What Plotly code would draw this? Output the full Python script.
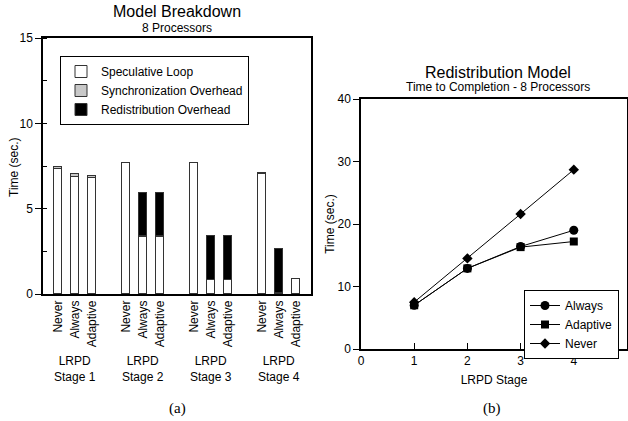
import plotly.graph_objects as go

# ---- data: panel (a) Model Breakdown ----
stages = ["Stage 1", "Stage 2", "Stage 3", "Stage 4"]
policies = ["Never", "Always", "Adaptive"]
spec_loop = [7.30, 6.85, 6.78, 7.65, 3.36, 3.36, 7.65, 0.82, 0.82, 7.03, 0.05, 0.86]
sync_over = [0.16, 0.16, 0.15, 0.04, 0.02, 0.02, 0.04, 0.02, 0.02, 0.04, 0.00, 0.02]
redis_over = [0.00, 0.00, 0.00, 0.00, 2.56, 2.56, 0.00, 2.54, 2.54, 0.00, 2.57, 0.00]

# ---- data: panel (b) Redistribution Model ----
lrpd_stage = [1, 2, 3, 4]
always_t = [7.0, 12.9, 16.4, 19.0]
adaptive_t = [7.0, 12.9, 16.3, 17.2]
never_t = [7.5, 14.5, 21.6, 28.7]

W, H = 628, 421
FONT = "Liberation Sans, Arial, Helvetica, sans-serif"

pos = []
labels = []
for g, _ in enumerate(stages):
    for j, p in enumerate(policies):
        pos.append(g * 4 + j)
        labels.append(p)
group_centers = [g * 4 + 1 for g in range(len(stages))]

fig = go.Figure()
bar_line = dict(color="#333333", width=1)
for name, vals, col in [
    ("Speculative Loop", spec_loop, "white"),
    ("Synchronization Overhead", sync_over, "#c8c8c8"),
    ("Redistribution Overhead", redis_over, "black"),
]:
    fig.add_trace(go.Bar(x=pos, y=vals, name=name, width=0.45,
                         marker=dict(color=col, line=bar_line),
                         xaxis="x", yaxis="y", legend="legend"))

for name, vals, sym, sz in [
    ("Always", always_t, "circle", 9),
    ("Adaptive", adaptive_t, "square", 8),
    ("Never", never_t, "diamond", 8),
]:
    fig.add_trace(go.Scatter(x=lrpd_stage, y=vals, name=name, mode="lines+markers",
                             line=dict(color="black", width=1),
                             marker=dict(symbol=sym, size=sz, color="black"),
                             xaxis="x2", yaxis="y2", legend="legend2"))

def px(x):
    return x / W

def py(y):
    return 1 - y / H

ax_common = dict(showline=True, linecolor="black", linewidth=1.5, mirror=True,
                 showgrid=False, zeroline=False,
                 tickfont=dict(family=FONT, size=12, color="black"))

fig.update_layout(
    width=W, height=H, margin=dict(l=0, r=0, t=0, b=0, autoexpand=False),
    paper_bgcolor="white", plot_bgcolor="white",
    barmode="stack", bargap=0,
    font=dict(family=FONT, size=12, color="black"),
    xaxis=dict(domain=[px(43), px(311)], range=[-0.9, 14.9],
               tickvals=pos, ticktext=labels, tickangle=-90, ticks="",
               anchor="y", **ax_common),
    yaxis=dict(domain=[py(294), py(38)], range=[0, 15], dtick=5,
               ticks="outside", ticklen=6, tickcolor="black",
               minor=dict(dtick=2.5, ticks="inside", ticklen=4, tickcolor="black"),
               anchor="x", **ax_common),
    xaxis2=dict(domain=[px(361), px(627)], range=[0, 5], dtick=1,
                ticks="inside", ticklen=6, tickcolor="black",
                title=dict(text="LRPD Stage", font=dict(family=FONT, size=12), standoff=8),
                anchor="y2", **ax_common),
    yaxis2=dict(domain=[py(349), py(99)], range=[0, 40], dtick=10,
                ticks="outside", ticklen=6, tickcolor="black",
                title=dict(text="Time (sec.)", font=dict(family=FONT, size=12), standoff=0),
                anchor="x2", **ax_common),
    legend=dict(x=px(60), y=py(56), xanchor="left", yanchor="top",
                bordercolor="black", borderwidth=1, bgcolor="white",
                font=dict(family=FONT, size=12), traceorder="normal",
                itemwidth=30, tracegroupgap=0),
    legend2=dict(x=px(619), y=py(290), xanchor="right", yanchor="top",
                 bordercolor="black", borderwidth=1, bgcolor="white",
                 font=dict(family=FONT, size=12), itemwidth=30),
    showlegend=True,
)

ann = [
    dict(text="Model Breakdown", x=px(177), y=py(12), font=dict(size=16)),
    dict(text="8 Processors", x=px(177), y=py(28), font=dict(size=12)),
    dict(text="Redistribution Model", x=px(498), y=py(72), font=dict(size=16)),
    dict(text="Time to Completion - 8 Processors", x=px(498), y=py(87), font=dict(size=12)),
    dict(text="(a)", x=px(177), y=py(408), font=dict(size=15, family="Liberation Serif, Times New Roman, serif")),
    dict(text="(b)", x=px(492), y=py(408), font=dict(size=15, family="Liberation Serif, Times New Roman, serif")),
]
for a in ann:
    fig.add_annotation(xref="paper", yref="paper", showarrow=False,
                       xanchor="center", yanchor="middle",
                       x=a["x"], y=a["y"], text=a["text"],
                       font=dict(family=a["font"].get("family", FONT), size=a["font"]["size"], color="black"))

# left panel y-axis title
fig.add_annotation(xref="paper", yref="paper", x=px(14), y=py(167), showarrow=False,
                   xanchor="center", yanchor="middle", textangle=-90,
                   text="Time (sec.)", font=dict(family=FONT, size=12, color="black"))

for c, s in zip(group_centers, stages):
    fig.add_annotation(xref="x", yref="paper", x=c, y=py(369), showarrow=False,
                       xanchor="center", yanchor="middle",
                       text="LRPD<br>" + s, font=dict(family=FONT, size=12, color="black"))

fig.write_html("out.html", config={"displayModeBar": False},
               post_script="document.body.style.margin='0';document.body.style.overflow='hidden';")
